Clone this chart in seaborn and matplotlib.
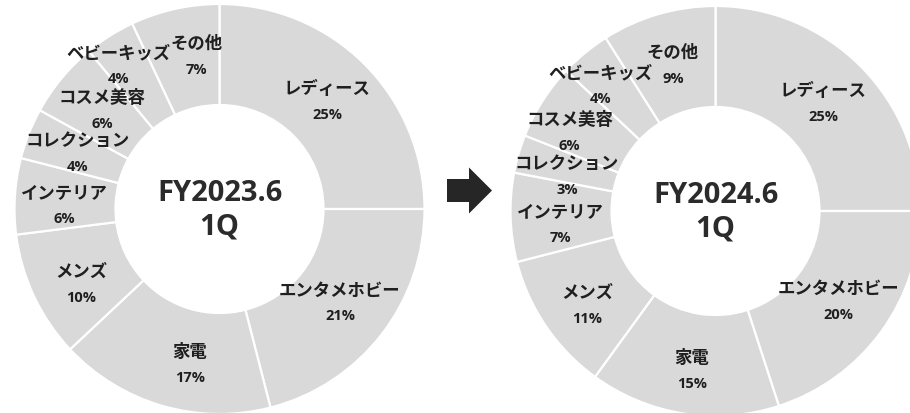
import numpy as np
import matplotlib
matplotlib.use("Agg")
import matplotlib.pyplot as plt
from matplotlib.patches import FancyArrow
import seaborn as sns

# Sales composition by category (share of GMV, %)
categories = ["レディース", "エンタメホビー", "家電", "メンズ", "インテリア",
              "コレクション", "コスメ美容", "ベビーキッズ", "その他"]
share_fy2023 = [25, 21, 17, 10, 6, 4, 6, 4, 7]
share_fy2024 = [25, 20, 15, 11, 7, 3, 6, 4, 9]
period_fy2023 = "FY2023.6\n1Q"
period_fy2024 = "FY2024.6\n1Q"

sns.set_theme(style="white")
plt.rcParams["font.family"] = ["Noto Sans CJK JP", "DejaVu Sans"]
latin_family = ["Open Sans", "Noto Sans CJK JP", "DejaVu Sans"]

W, H = 910, 414
fig = plt.figure(figsize=(W / 100, H / 100), dpi=100)
ax = fig.add_axes([0, 0, 1, 1])

ring_color = sns.color_palette(["#d9d9d9"])[0]
text_color = "#1f1f1f"
outer_r, inner_r = 205, 104

# small per-label nudges (pixels, y up) to keep neighbouring labels apart
nudges = {
    0: {"家電": (13, -9), "メンズ": (0, -10), "インテリア": (-3, -6),
        "コスメ美容": (0, 2), "ベビーキッズ": (-19, 15), "その他": (10, 4)},
    1: {"家電": (0, -8), "メンズ": (-2, -8), "インテリア": (-3, -8),
        "コレクション": (-2, -8), "コスメ美容": (-17, -3),
        "ベビーキッズ": (-18, 8)},
}

charts = [
    (share_fy2023, period_fy2023, (219.5, H - 210)),
    (share_fy2024, period_fy2024, (715.5, H - 212)),
]

for idx, (shares, period, center) in enumerate(charts):
    wedges, _ = ax.pie(
        shares,
        startangle=90,
        counterclock=False,
        center=center,
        radius=outer_r,
        colors=[ring_color] * len(shares),
        wedgeprops=dict(width=outer_r - inner_r, edgecolor="white", linewidth=1.6),
    )
    label_r = (outer_r + inner_r) / 2 - 2
    for w, name, val in zip(wedges, categories, shares):
        mid = np.deg2rad((w.theta1 + w.theta2) / 2)
        dx, dy = nudges[idx].get(name, (0, 0))
        x = center[0] + label_r * np.cos(mid) + dx
        y = center[1] + label_r * np.sin(mid) + dy
        ax.text(x, y + 13, name, ha="center", va="center",
                fontsize=12.5, fontweight="bold", color=text_color)
        ax.text(x, y - 13, f"{val}%", ha="center", va="center",
                fontsize=10.5, fontweight="bold", color=text_color,
                family=latin_family)
    ax.text(center[0], center[1], period, ha="center", va="center",
            fontsize=21, fontweight="bold", color="#2b2b2b",
            linespacing=1.2, family=latin_family)

# arrow between the two periods
ax.add_patch(FancyArrow(447, H - 191.5, 45, 0, width=23, head_width=46,
                        head_length=23, length_includes_head=True,
                        color="#262626", linewidth=0))

ax.set_xlim(0, W)
ax.set_ylim(0, H)
ax.set_aspect("equal")
ax.axis("off")

fig.savefig("out.png", dpi=100, facecolor="white")
